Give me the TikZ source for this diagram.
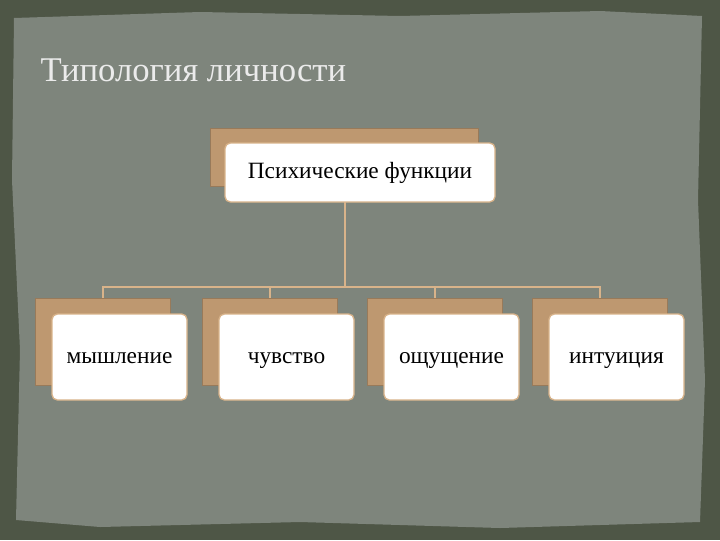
\documentclass[tikz,border=0pt]{standalone}
\usepackage{fontspec}
\setmainfont{Liberation Serif}
\definecolor{outer}{HTML}{4E5646}
\definecolor{panel}{HTML}{7E857C}
\definecolor{tan}{HTML}{BE9870}
\definecolor{tanline}{HTML}{D8B38A}
\begin{document}
\begin{tikzpicture}[x=0.75pt,y=-0.75pt,
  back/.style={fill=tan,draw=tan!80!black,line width=0.5pt},
  front/.style={fill=white,draw=tanline,line width=1pt,rounded corners=4pt,align=center,font=\fontsize{17.5}{20}\selectfont,inner sep=0pt,text height=12pt,text depth=3pt},
  conn/.style={draw=tanline,line width=1.5pt}]
\useasboundingbox (0,0) rectangle (720,540);
\fill[outer] (0,0) rectangle (720,540);
\fill[panel] (14,18) -- (200,12) -- (400,16) -- (600,11) -- (702,16) -- (698,200) -- (705,380) -- (700,522) -- (500,528) -- (300,522) -- (100,527) -- (16,520) -- (20,350) -- (12,180) -- cycle;
\node[anchor=west,text=white!92!black,font=\fontsize{26}{30}\selectfont] (title) at (36,70) {Типология личности};
% top
\fill[back] (210,128) rectangle (478,186);
\node[front,minimum width=270*0.75pt,minimum height=59*0.75pt] (top) at (360,172.5) {Психические функции};
\coordinate (j) at (345,287);
\foreach \n/\bx/\t in {a/35/мышление, b/202/чувство, c/367/ощущение, d/532/интуиция}{
  \fill[back] (\bx,298) rectangle ++(135,87);
  \node[front,minimum width=135*0.75pt,minimum height=86*0.75pt] (\n) at (\bx+84.5,357) {\t};
  \coordinate (\n t) at (\bx+67.5,298);
}
\draw[conn] (345,202) -- (j);
\draw[conn] (at) -- (at|-j) -- (dt|-j) -- (dt);
\draw[conn] (bt) -- (bt|-j);
\draw[conn] (ct) -- (ct|-j);
\end{tikzpicture}
\end{document}
